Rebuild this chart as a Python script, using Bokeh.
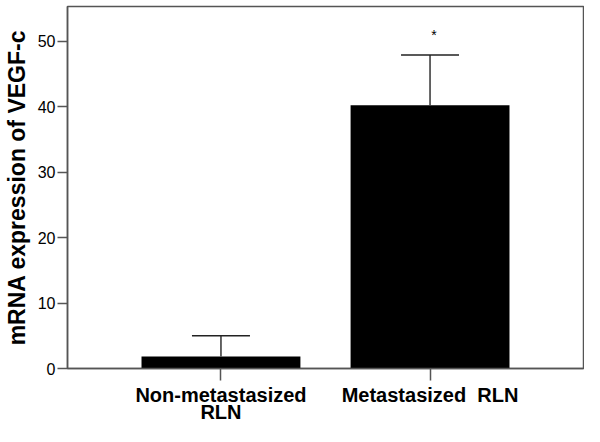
from bokeh.plotting import figure
from bokeh.models import ColumnDataSource, Whisker, TeeHead, Range1d, FactorRange, SingleIntervalTicker
from bokeh.core.properties import value
from bokeh.embed import file_html
from bokeh.resources import INLINE

# data
categories = ["Non-metastasized\nRLN", "Metastasized\u00a0\u00a0RLN"]
means = [1.85, 40.2]
upper = [5.0, 47.9]
sig_marks = ["", "*"]
sig_y = [51.0, 51.0]

src = ColumnDataSource(dict(cat=categories, mean=means, upper=upper, mark=sig_marks, sy=sig_y))

p = figure(x_range=FactorRange(factors=categories, range_padding=0.234, range_padding_units="absolute"),
           y_range=Range1d(0, 55.3),
           width=584, height=426,
           output_backend="svg", toolbar_location=None,
           min_border_left=67, min_border_right=1, min_border_top=6, min_border_bottom=50)

p.vbar(x="cat", top="mean", width=0.76, source=src, fill_color="black", line_color=None)

wh = Whisker(source=src, base="cat", lower="mean", upper="upper", dimension="height",
             upper_head=TeeHead(size=58, line_color="#222", line_width=1.5), lower_head=None,
             line_color="#333", line_width=1.5, level="overlay")
p.add_layout(wh)

p.text(x="cat", y="sy", text="mark", source=src, text_align="center", text_baseline="middle",
       text_font=value("Liberation Sans"), text_font_size="14px", text_color="black", x_offset=4)

p.xgrid.visible = False
p.ygrid.visible = False
p.outline_line_color = "#555555"
p.outline_line_width = 1.5
p.background_fill_color = "white"
p.border_fill_color = "white"

# y axis
ya = p.yaxis[0]
ya.ticker = SingleIntervalTicker(interval=10)
ya.minor_tick_line_color = None
ya.major_tick_in = 0
ya.major_tick_out = 10
ya.major_tick_line_color = "#555555"
ya.major_tick_line_width = 1.5
ya.axis_line_color = "#555555"
ya.axis_line_width = 1.5
ya.major_label_text_font = "Liberation Sans"
ya.major_label_text_font_size = "16px"
ya.major_label_text_color = "black"
ya.major_label_standoff = 2
ya.axis_label = "mRNA expression of VEGF-c"
ya.axis_label_text_font = "Liberation Sans"
ya.axis_label_text_font_size = "23px"
ya.axis_label_text_font_style = "bold"
ya.axis_label_text_color = "black"
ya.axis_label_standoff = 5

# x axis
xa = p.xaxis[0]
xa.major_tick_in = 0
xa.major_tick_out = 12
xa.major_tick_line_color = "#555555"
xa.major_tick_line_width = 1.5
xa.axis_line_color = "#555555"
xa.axis_line_width = 1.5
xa.major_label_text_font = "Liberation Sans"
xa.major_label_text_font_size = "20px"
xa.major_label_text_font_style = "bold"
xa.major_label_text_color = "black"
xa.major_label_text_line_height = 0.8
xa.major_label_standoff = 3

open("out.html", "w").write(file_html(p, INLINE))
